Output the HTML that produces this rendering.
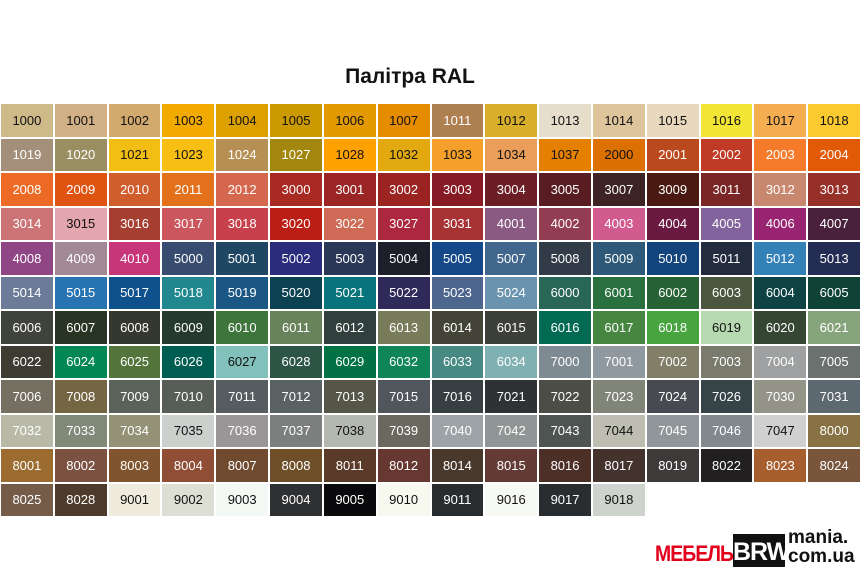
<!DOCTYPE html>
<html><head><meta charset="utf-8"><style>
body{margin:0;width:860px;height:570px;background:#fff;position:relative;overflow:hidden;font-family:"Liberation Sans",sans-serif}
h1{position:absolute;top:65px;left:0;width:820px;text-align:center;margin:0;font-size:21px;font-weight:bold;color:#111}
#g{position:absolute;left:1px;top:104px;width:859px;display:grid;grid-template-columns:repeat(16,1fr);grid-auto-rows:32.5px;gap:2px}
#g div{display:flex;align-items:center;justify-content:center;font-size:13px;color:#fff}
#g div.d{color:#111}
#logo{position:absolute;left:655px;top:520px;width:200px;height:50px}
</style></head><body>
<h1>Палітра RAL</h1>
<div id="g"></div>
<div id="logo">
<span style="position:absolute;left:0;top:21px;font-size:22px;font-weight:bold;color:#e3001b;letter-spacing:-1px;transform:scaleX(0.88);transform-origin:left">МЕБЕЛЬ</span>
<span style="position:absolute;left:78px;top:14px;width:52px;height:33px;background:#111;color:#fff;font-size:25px;font-weight:bold;text-align:center;line-height:36px;letter-spacing:-1px">BRW</span>
<span style="position:absolute;left:133px;top:8px;font-size:19px;font-weight:bold;color:#111;line-height:19px">mania.<br>com.ua</span>
</div>
<script>
const c=`1000 CDBA88 d,1001 D0B084 d,1002 D2AA6D d,1003 F2A900 d,1004 DCA100 d,1005 CB9A00 d,1006 E29A00 d,1007 E58C00 d,1011 AF804F,1012 D8AE2A d,1013 E6DDCB d,1014 DDC49A d,1015 E8D9BE d,1016 F3E535 d,1017 F5AD52 d,1018 FACA30 d,
1019 A48F7A,1020 9A8F62,1021 F3BE14 d,1023 F7BE14 d,1024 B68F55,1027 A3860E,1028 FFA200 d,1032 E2AA10 d,1033 F5A02A d,1034 EA9E5A d,1037 E57F00 d,2000 DC7000 d,2001 BA4A1E,2002 C03A26,2003 F57A2A,2004 E25A06,
2008 EC6A25,2009 DE5410,2010 D05E2C,2011 E3701A,2012 D5674F,3000 A82A22,3001 9B2525,3002 9B2423,3003 861B25,3004 6B1E26,3005 591C22,3007 3E2325,3009 4A1A12,3011 7A2626,3012 C8876F,3013 98302A,
3014 CB7375,3015 E3A5AE d,3016 A63F31,3017 CB565E,3018 C7404B,3020 BB1E14,3022 CF6A57,3027 AB283E,3031 A73234,4001 8A5A83,4002 933D52,4003 D15B8F,4004 6A1A40,4005 83639D,4006 992572,4007 4A213D,
4008 904684,4009 A38995,4010 C63678,5000 384C70,5001 1F4764,5002 2B2C7C,5003 2A3756,5004 1D1F2A,5005 154889,5007 41678D,5008 313C48,5009 2E5978,5010 13447C,5011 232C3F,5012 3481B8,5013 232D53,
5014 6C7C98,5015 2874B2,5017 0E518D,5018 21888F,5019 1A5784,5020 0B4151,5021 07737A,5022 2F2A5A,5023 4D668E,5024 6A93B0,6000 296656,6001 28713E,6002 276235,6003 4B573E,6004 0E4243,6005 0F4336,
6006 40433B,6007 283424,6008 35382E,6009 26392F,6010 3E753B,6011 68825B,6012 31403D,6013 797C5A,6014 444337,6015 3D403A,6016 026A52,6017 468641,6018 48A43F,6019 B7D9B1 d,6020 354733,6021 86A47C,
6022 3E3C32,6024 008754,6025 53753C,6026 005D52,6027 81C0BB d,6028 2D5546,6029 007243,6032 0F8558,6033 478A84,6034 7FB0B2,7000 7E8B92,7001 8F999F,7002 817F68,7003 7A7B6D,7004 9EA0A1,7005 6B716F,
7006 756F61,7008 746643,7009 5B6259,7010 575D57,7011 555D61,7012 596163,7013 555548,7015 51565C,7016 373F43,7021 2E3234,7022 4B4D46,7023 818479,7024 474A50,7026 374447,7030 939388,7031 5D6970,
7032 B9B9A8,7033 818979,7034 939176,7035 CBD0CC d,7036 9A9697,7037 7C7F7E,7038 B4B8B0 d,7039 6B695F,7040 9DA3A6,7042 8F9695,7043 4E5451,7044 BDBDB2 d,7045 91969A,7046 82898E,7047 D0D0D0 d,8000 887142,
8001 9C6B30,8002 7B5141,8003 80542F,8004 8F4E35,8007 6F4A2F,8008 6F4F28,8011 5A3A29,8012 673831,8014 49392D,8015 633A34,8016 4C2F26,8017 44322D,8019 3F3A3A,8022 211F20,8023 A65E2F,8024 79553C,
8025 755C49,8028 4E3B2B,9001 EFEBDC d,9002 DDDED4 d,9003 F4F8F4 d,9004 2E3032,9005 0A0A0D,9010 F7F9EF d,9011 292C2F,9016 F7F9F4 d,9017 2A2D2F,9018 CFD3CD d`;
const g=document.getElementById('g');
c.split(',').forEach(s=>{const p=s.trim().split(' ');const d=document.createElement('div');d.textContent=p[0];d.style.background='#'+p[1];if(p[2])d.className='d';g.appendChild(d);});
</script>
</body></html>
